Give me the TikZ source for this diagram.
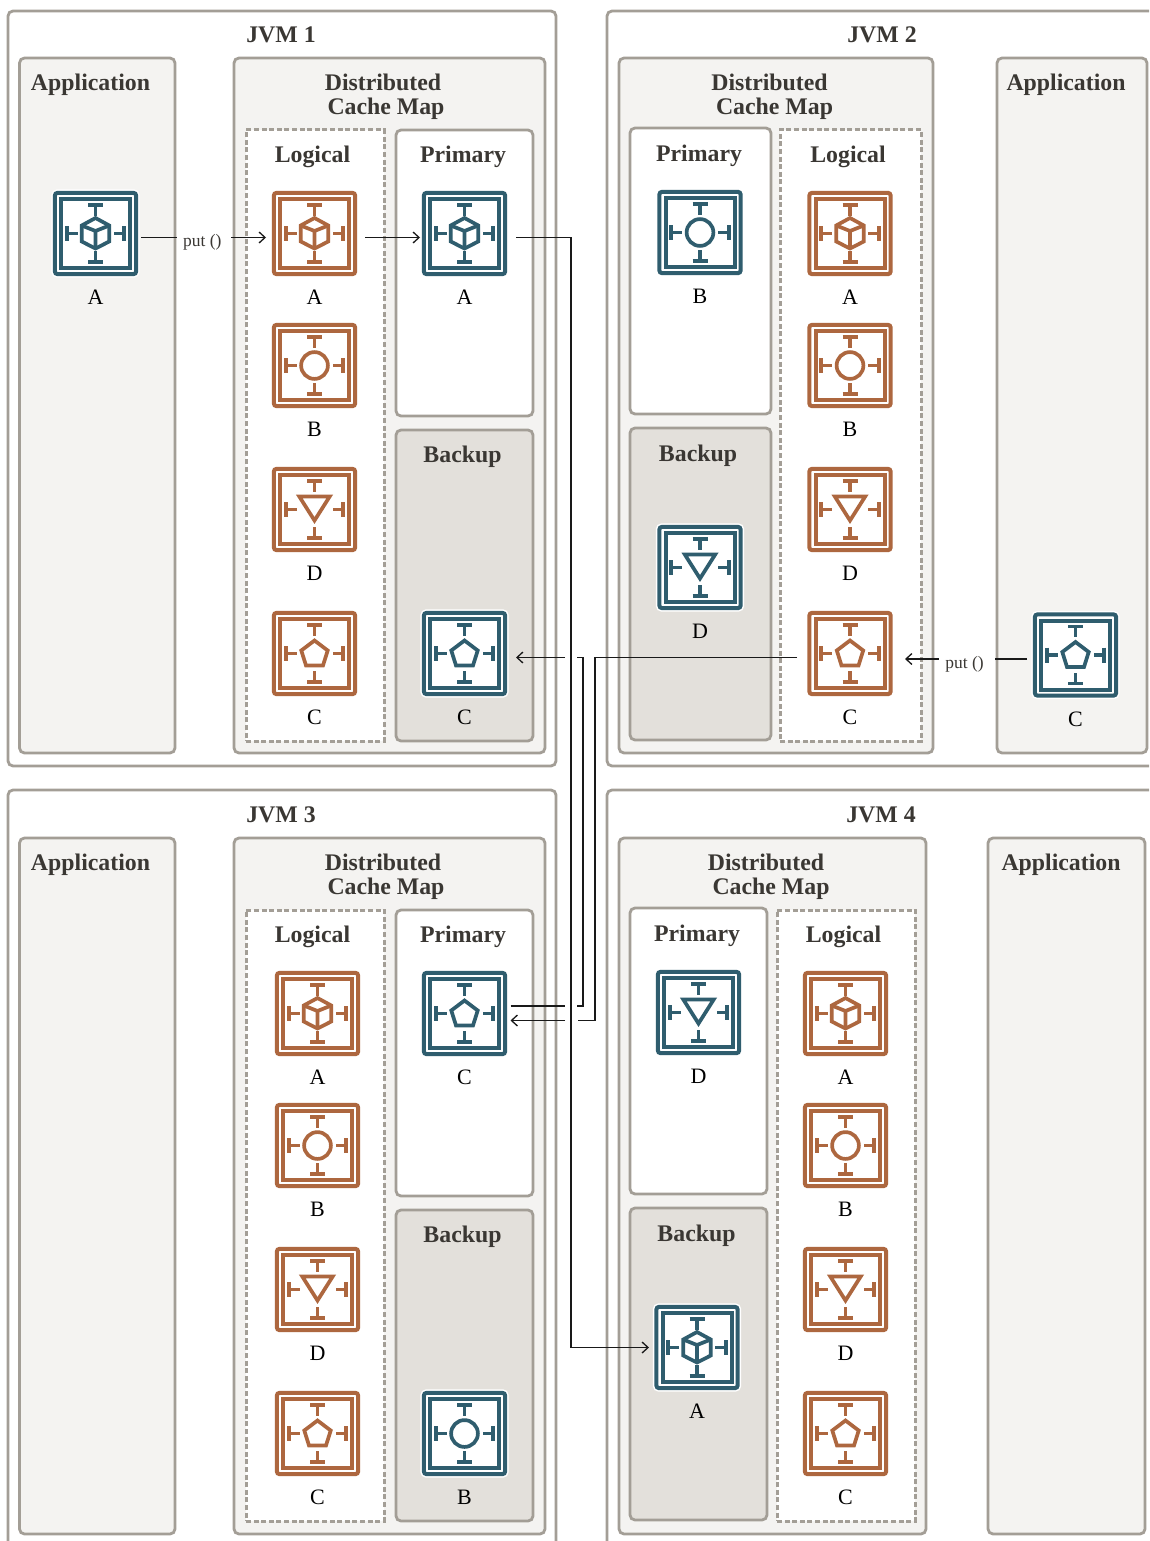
\documentclass[tikz,border=0pt]{standalone}
\usepackage{fontspec}
\setmainfont{Liberation Serif}
\usetikzlibrary{arrows.meta}
\definecolor{edgegray}{HTML}{A39E96}
\definecolor{teal}{HTML}{2F5D6E}
\definecolor{rust}{HTML}{AD673F}
\definecolor{paneA}{HTML}{F4F3F1}
\definecolor{paneB}{HTML}{E3E0DB}
\definecolor{ink}{HTML}{3A3733}
\tikzset{
  x=1pt,y=-1pt,
  panelbase/.style={draw=edgegray,line width=2.8pt,rounded corners=5pt,inner sep=0pt,outer sep=0pt},
  jvmbox/.style={panelbase,fill=white},
  lightbox/.style={panelbase,fill=paneA},
  whitebox/.style={panelbase,fill=white},
  backupbox/.style={panelbase,fill=paneB},
  dashbox/.style={panelbase,line width=3pt,fill=white,rounded corners=0pt,dash pattern=on 5pt off 2.6pt},
  title/.style={font=\fontsize{23.8}{24}\selectfont\bfseries,text=ink,anchor=base,inner sep=0pt,yshift=-0.7pt},
  itemlabel/.style={font=\fontsize{22}{24}\selectfont,text=black,anchor=base,inner sep=0pt,yshift=-0.7pt},
  putlabel/.style={font=\fontsize{17.5}{20}\selectfont,text=ink,inner xsep=6.5pt,inner ysep=0pt,text height=18.4pt,text depth=0pt,outer sep=0pt},
  flow/.style={draw=black!90,line width=1.15pt},
  flowtip/.style={flow,-{Straight Barb[length=6pt,width=11pt,line width=1.3pt]}},
  iconouter/.style={minimum size=81.2pt,inner sep=0pt,outer sep=0pt,rounded corners=2.5pt,line width=4pt,fill=white},
}
% name, style, x1, y1, x2, y2
\newcommand{\panelbox}[6]{%
  \pgfmathsetmacro{\pw}{#5-#3}\pgfmathsetmacro{\ph}{#6-#4}%
  \pgfmathsetmacro{\pcx}{(#3+#5)/2}\pgfmathsetmacro{\pcy}{(#4+#6)/2}%
  \node[#2,minimum width=\pw pt,minimum height=\ph pt] (#1) at (\pcx,\pcy) {};}
\newcommand{\glyphcube}{%
  \draw[line join=miter] (0,-15.5) -- (13.8,-8) -- (13.8,8) -- (0,15) -- (-13.8,8) -- (-13.8,-8) -- cycle;
  \draw (-13.8,-8) -- (0,-2.5) -- (13.8,-8) (0,-2.5) -- (0,15);}
\newcommand{\glyphcircle}{\draw (0,0) circle (13.4);}
\newcommand{\glyphtri}{\draw[line join=miter] (-15.2,-13) -- (15.2,-13) -- (0,11) -- cycle;}
\newcommand{\glyphpenta}{\draw[line join=miter] (0,-13) -- (13.2,-3) -- (8.5,12) -- (-8.5,12) -- (-13.2,-3) -- cycle;}
% name, x, y, colour, glyph, label
\newcommand{\cacheicon}[6]{%
  \node[iconouter,draw=white,line width=7pt] at (#2,#3) {};
  \node[iconouter,draw=#4] (#1) at (#2,#3) {};
  \begin{scope}[shift={(#2,#3)},draw=#4,line width=3.7pt]
    \draw[line width=4pt] (-34.5,-34.5) rectangle (34.5,34.5);
    \draw (-7.5,-28.5) -- (7.5,-28.5) (0,-28.5) -- (0,-18);
    \draw (-7.5,28.5) -- (7.5,28.5) (0,28.5) -- (0,17.5);
    \draw (-28.7,-7.5) -- (-28.7,7.5) (-28.7,0) -- (-18,0);
    \draw (28.7,-7.5) -- (28.7,7.5) (28.7,0) -- (18,0);
    #5
  \end{scope}
  \node[itemlabel] (#1label) at (#2,#3+70.5) {#6};}
\newcommand{\logicalcol}[3]{% prefix, x, y offset
  \cacheicon{#1a}{#2}{233.5+#3}{rust}{\glyphcube}{A}
  \cacheicon{#1b}{#2}{365.5+#3}{rust}{\glyphcircle}{B}
  \cacheicon{#1d}{#2}{509.5+#3}{rust}{\glyphtri}{D}
  \cacheicon{#1c}{#2}{653.5+#3}{rust}{\glyphpenta}{C}}
\begin{document}
\begin{tikzpicture}
\path[use as bounding box] (0,0) rectangle (1149,1541);
\clip (0,0) rectangle (1149,1541);
% JVM 1
\panelbox{jvmA}{jvmbox}{8}{11}{556}{766}
\panelbox{appA}{lightbox}{19.5}{58}{175}{753}
\panelbox{distA}{lightbox}{234}{58}{545}{753}
\panelbox{logA}{dashbox}{246}{130}{384}{741}
\panelbox{priA}{whitebox}{396}{130}{533}{416}
\panelbox{bakA}{backupbox}{396}{430}{533}{741}
% JVM 2
\panelbox{jvmB}{jvmbox}{607}{11}{1165}{766}
\panelbox{distB}{lightbox}{619}{58}{933}{753}
\panelbox{priB}{whitebox}{630}{128}{771}{414}
\panelbox{bakB}{backupbox}{630}{428}{771}{740}
\panelbox{logB}{dashbox}{780}{130}{921}{741}
\panelbox{appB}{lightbox}{997}{58}{1147}{753}
% JVM 3
\panelbox{jvmC}{jvmbox}{8}{790}{556}{1570}
\panelbox{appC}{lightbox}{19.5}{838}{175}{1534}
\panelbox{distC}{lightbox}{234}{838}{545}{1534}
\panelbox{logC}{dashbox}{246}{910}{384}{1521}
\panelbox{priC}{whitebox}{396}{910}{533}{1196}
\panelbox{bakC}{backupbox}{396}{1210}{533}{1521}
% JVM 4
\panelbox{jvmD}{jvmbox}{607}{790}{1165}{1570}
\panelbox{distD}{lightbox}{619}{838}{926}{1534}
\panelbox{priD}{whitebox}{630}{908}{767}{1194}
\panelbox{bakD}{backupbox}{630}{1208}{767}{1520}
\panelbox{logD}{dashbox}{777}{910}{915}{1521}
\panelbox{appD}{lightbox}{988}{838}{1145}{1534}
% Titles
\node[title] (tjA) at (281,41.7) {JVM 1};
\node[title] (tjB) at (882,41.7) {JVM 2};
\node[title] (tjC) at (281,821.7) {JVM 3};
\node[title] (tjD) at (881,821.7) {JVM 4};
\node[title] (taA) at (90.5,89.7) {Application};
\node[title] (taB) at (1066,89.7) {Application};
\node[title] (taC) at (90.5,869.7) {Application};
\node[title] (taD) at (1061,869.7) {Application};
\node[title,align=center] (tdA) at (383,113.8) {Distributed\\\hspace*{6pt}Cache Map};
\node[title,align=center] (tdB) at (769.5,113.8) {Distributed\\\hspace*{10pt}Cache Map};
\node[title,align=center] (tdC) at (383,893.8) {Distributed\\\hspace*{6pt}Cache Map};
\node[title,align=center] (tdD) at (766,893.8) {Distributed\\\hspace*{10pt}Cache Map};
\node[title] (tlA) at (312.5,161.7) {Logical};
\node[title] (tpA) at (463,161.7) {Primary};
\node[title] (tbA) at (462.5,461.7) {Backup};
\node[title] (tpB) at (699,160.7) {Primary};
\node[title] (tbB) at (698,460.7) {Backup};
\node[title] (tlB) at (848,161.7) {Logical};
\node[title] (tlC) at (312.5,941.7) {Logical};
\node[title] (tpC) at (463,941.7) {Primary};
\node[title] (tbC) at (462.5,1241.7) {Backup};
\node[title] (tpD) at (697,940.7) {Primary};
\node[title] (tbD) at (696.5,1240.7) {Backup};
\node[title] (tlD) at (843.5,941.7) {Logical};
% Icons
\cacheicon{ja}{95.5}{233.5}{teal}{\glyphcube}{A}
\logicalcol{la}{314.5}{0}
\cacheicon{pa}{464.5}{233.5}{teal}{\glyphcube}{A}
\cacheicon{bc}{464.5}{653.5}{teal}{\glyphpenta}{C}
\cacheicon{pb}{700}{232.5}{teal}{\glyphcircle}{B}
\cacheicon{bd}{700}{567.5}{teal}{\glyphtri}{D}
\logicalcol{lb}{850}{0}
\cacheicon{jc}{1075.5}{655}{teal}{\glyphpenta}{C}
\logicalcol{lc}{317.5}{780}
\cacheicon{pc}{464.5}{1013.5}{teal}{\glyphpenta}{C}
\cacheicon{bb}{464.5}{1433.5}{teal}{\glyphcircle}{B}
\cacheicon{pd}{698.5}{1012.5}{teal}{\glyphtri}{D}
\cacheicon{ba}{697}{1347.5}{teal}{\glyphcube}{A}
\logicalcol{ld}{845.5}{780}
% Labels on connectors
\node[putlabel] (putA) at (204,237.5) {put ()\hspace*{3.5pt}};
\node[putlabel] (putB) at (967,659) {put ()\hspace*{5pt}};
% Connectors
\coordinate (gapAr) at (577,657.5);
\coordinate (gapAl) at (565,657.5);
\coordinate (gapBr) at (577,1006);
\coordinate (gapBl) at (565,1006);
\coordinate (gapCr) at (578,1020.5);
\coordinate (gapCl) at (565,1020.5);
\coordinate (vertA) at (571,237.5);
\coordinate (vertB) at (571,1347.5);
\coordinate (vertC) at (583,657.5);
\coordinate (vertD) at (583,1006);
\coordinate (vertE) at (595,657.5);
\coordinate (vertF) at (595,1020.5);
\draw[flow] ([xshift=4.9pt,yshift=-4pt]ja.east) -- (putA.west);
\draw[flowtip] (putA.east) -- ([xshift=-7.9pt,yshift=-4pt]laa.west);
\draw[flowtip] ([xshift=9.9pt,yshift=-4pt]laa.east) -- ([xshift=-3.9pt,yshift=-4pt]pa.west);
\draw[flowtip] ([xshift=10.9pt,yshift=-4pt]pa.east) -- (vertA) -- (vertB) -- ([xshift=-7.4pt]ba.west);
\draw[flow] ([xshift=-7.9pt,yshift=-4pt]jc.west) -- (putB.east);
\draw[flowtip] (putB.west) -- ([xshift=14.4pt,yshift=-5.5pt]lbc.east);
\draw[flow] ([xshift=-12.4pt,yshift=-4pt]lbc.west) -- (vertE) -- (vertF) -- (gapCr);
\draw[flowtip] (gapCl) -- ([xshift=5.4pt,yshift=-7pt]pc.east);
\draw[flow] ([xshift=5.4pt,yshift=7.5pt]pc.east) -- (gapBl);
\draw[flow] (gapBr) -- (vertD) -- (vertC) -- (gapAr);
\draw[flowtip] (gapAl) -- ([xshift=10.9pt,yshift=-4pt]bc.east);
\end{tikzpicture}
\end{document}
